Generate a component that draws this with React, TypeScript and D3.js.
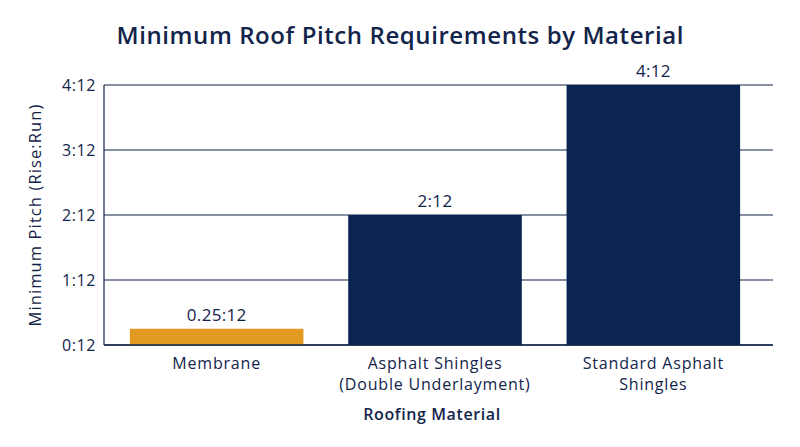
import { useMemo } from "react";
import * as d3 from "d3";

const materials = ["Membrane", "Asphalt Shingles (Double Underlayment)", "Standard Asphalt Shingles"];
const materialLines = [["Membrane"], ["Asphalt Shingles", "(Double Underlayment)"], ["Standard Asphalt", "Shingles"]];
const pitches = [0.25, 2, 4];
const pitchLabels = ["0.25:12", "2:12", "4:12"];
const barColors = ["#E39A22", "#0B2550", "#0B2550"];
const yTicks = [0, 1, 2, 3, 4];
const yTickLabels = ["0:12", "1:12", "2:12", "3:12", "4:12"];

const W = 800;
const H = 447;
const plot = { left: 104, right: 773, top: 85, bottom: 345 };
const ink = "#12244A";
const font = "'Open Sans', 'DejaVu Sans', sans-serif";

export default function App() {
  // bars sit a bit inside the axis frame
  const x = useMemo(
    () =>
      d3
        .scaleBand<string>()
        .domain(materials)
        .range([107.5, 762.5])
        .paddingInner(0.205)
        .paddingOuter(0.1025),
    []
  );
  const y = useMemo(
    () => d3.scaleLinear().domain([0, 4]).range([plot.bottom, plot.top]),
    []
  );

  return (
    <svg
      width={W}
      height={H}
      style={{ position: "absolute", left: 0, top: 0, background: "#fff" }}
      fontFamily={font}
    >
      <text x={400} y={44} textAnchor="middle" fontSize={24} fontWeight={600} fill={ink} textLength={567}>
        Minimum Roof Pitch Requirements by Material
      </text>

      {/* grid + y ticks */}
      {yTicks.map((t, i) => (
        <g key={t}>
          <line x1={plot.left} x2={plot.right} y1={y(t)} y2={y(t)} stroke={ink} strokeWidth={1.2} />
          <text x={96} y={y(t)} dy="0.38em" textAnchor="end" fontSize={16} letterSpacing={0.6} fill={ink}>
            {yTickLabels[i]}
          </text>
        </g>
      ))}

      {/* bars */}
      {materials.map((m, i) => {
        const cx = (x(m) ?? 0) + x.bandwidth() / 2;
        return (
          <g key={m}>
            <rect
              x={x(m)}
              y={y(pitches[i])}
              width={x.bandwidth()}
              height={y(0) - y(pitches[i])}
              fill={barColors[i]}
            />
            <text x={cx} y={y(pitches[i]) - 8} textAnchor="middle" fontSize={17} letterSpacing={0.3} fill={ink}>
              {pitchLabels[i]}
            </text>
            {materialLines[i].map((line, j) => (
              <text key={line} x={cx} y={369 + j * 21} textAnchor="middle" fontSize={16} letterSpacing={0.8} fill={ink}>
                {line}
              </text>
            ))}
          </g>
        );
      })}

      <line x1={plot.left} x2={plot.left} y1={plot.top} y2={y(0)} stroke={ink} strokeWidth={1.2} />
      <line x1={plot.left} x2={plot.right} y1={y(0)} y2={y(0)} stroke={ink} strokeWidth={1.5} />

      <text x={432} y={420} textAnchor="middle" fontSize={16} fontWeight={600} letterSpacing={0.6} fill={ink}>
        Roofing Material
      </text>
      <text
        transform={`translate(41,${(plot.top + plot.bottom) / 2}) rotate(-90)`}
        textAnchor="middle"
        fontSize={16.5}
        fontWeight={500}
        letterSpacing={1.1}
        fill={ink}
      >
        Minimum Pitch (Rise:Run)
      </text>
    </svg>
  );
}
